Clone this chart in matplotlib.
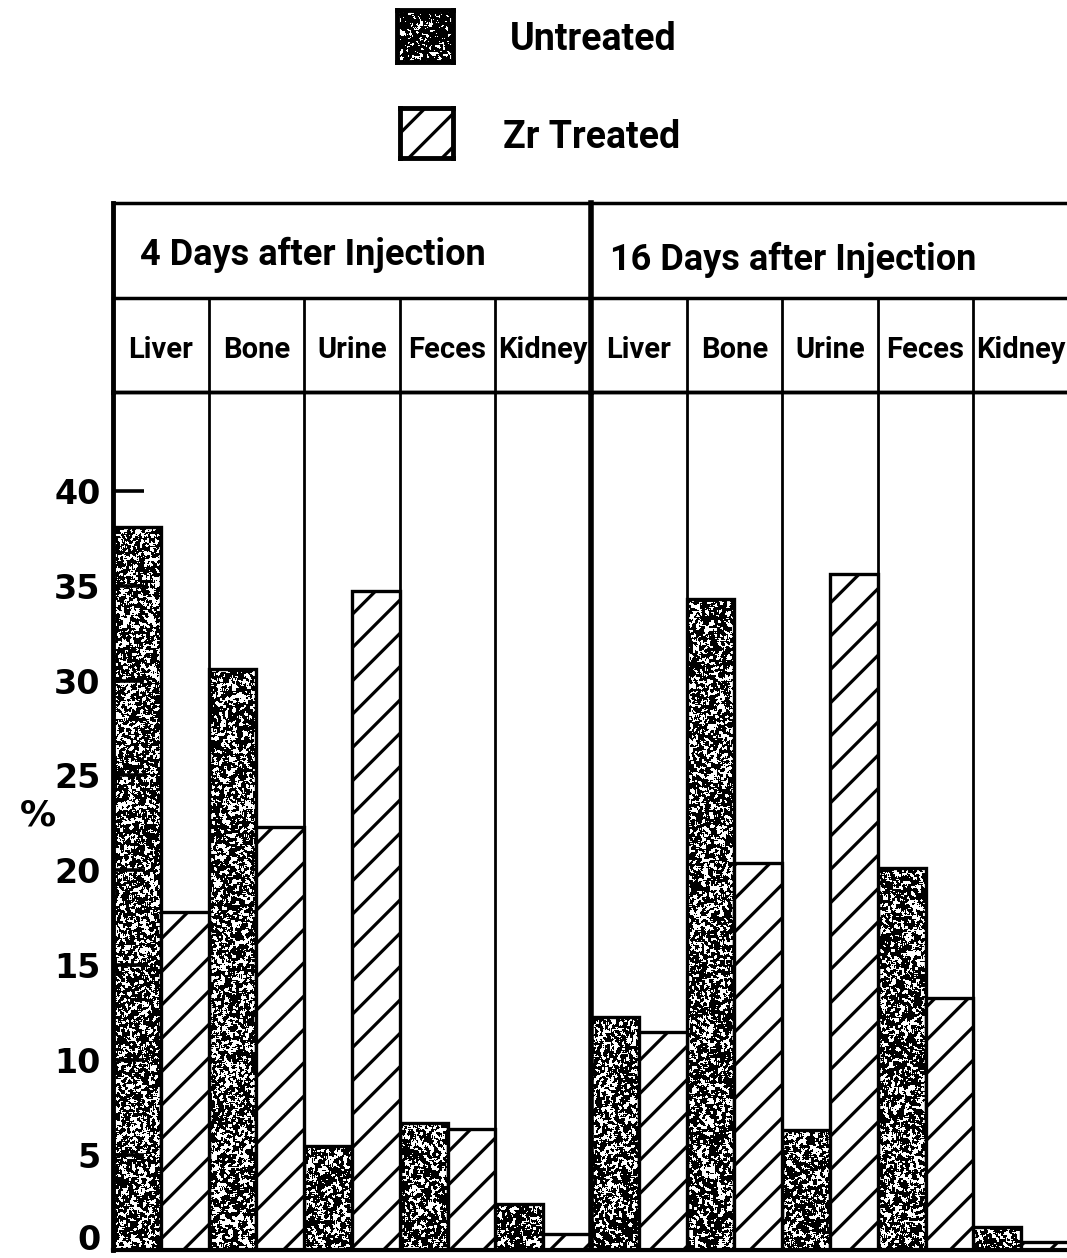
import numpy as np
import matplotlib
matplotlib.use("Agg")
import matplotlib.pyplot as plt
import matplotlib.transforms as mtransforms
from matplotlib.patches import Rectangle

# ---- data ----
periods = ["4 Days after Injection", "16 Days after Injection"]
organs = ["Liver", "Bone", "Urine", "Feces", "Kidney"]
untreated_4d = [38.1, 30.6, 5.5, 6.7, 2.4]
treated_4d = [17.8, 22.3, 34.7, 6.4, 0.85]
untreated_16d = [12.3, 34.3, 6.3, 20.1, 1.2]
treated_16d = [11.5, 20.4, 35.6, 13.3, 0.4]
yticks = [0, 5, 10, 15, 20, 25, 30, 35, 40]
ytick_labels = ["0", "5", "10", "15", "20", "25", "30", "35", "40"]
legend_labels = ["Untreated", "Zr Treated"]

plt.rcParams['hatch.linewidth'] = 2.3
W, H = 1067, 1258
fig = plt.figure(figsize=(W / 100, H / 100), dpi=100)
fig.patch.set_facecolor("white")

TXT = ["Roboto", "DejaVu Sans"]


def noise(h, w, seed=0.0, thr=0.5):
    i = np.arange(h)[:, None].astype(float)
    j = np.arange(w)[None, :].astype(float)
    v = np.sin(i * 12.9898 + j * 78.233 + seed) * 43758.5453
    v = v - np.floor(v)
    v2 = np.sin(i * 39.3468 + j * 11.1351 + seed * 7.0) * 24634.6345
    v2 = v2 - np.floor(v2)
    v = 0.5 * (v + v2)
    n = np.zeros_like(v)
    for di in (-1, 0, 1):
        for dj in (-1, 0, 1):
            n += np.roll(np.roll(v, di, 0), dj, 1)
    n /= 9.0
    return (n > thr).astype(float)


def fx(px):
    return px / W


def fy(py):
    return 1 - py / H


x_left, x_right = 113, 1069
y_top_plot, y_base = 392, 1250
y_head_top = 203
YMAX = 45.2

# ---- main bar axes ----
ax = fig.add_axes([fx(x_left), fy(y_base), fx(x_right) - fx(x_left), fy(y_top_plot) - fy(y_base)])
ax.set_xlim(0, 10)
ax.set_ylim(0, YMAX)

untreated = untreated_4d + untreated_16d
treated = treated_4d + treated_16d
ncol = len(untreated)
xs = np.arange(ncol)

tex = noise(858, 956, seed=1.0, thr=0.522)
for i, v in enumerate(untreated):
    bars = ax.bar(xs[i] + 0.25, v, width=0.5, facecolor="none", edgecolor="black",
                  linewidth=2.4, zorder=4)
    im = ax.imshow(tex, cmap="gray", vmin=0, vmax=1, extent=(0, 10, 0, YMAX),
                   origin="lower", aspect="auto", interpolation="nearest", zorder=3)
    im.set_clip_path(bars.patches[0])
ax.bar(xs + 0.75, treated, width=0.5, facecolor="white", edgecolor="black",
       hatch="/", linewidth=2.4, zorder=4)

for k in range(1, ncol):
    ax.axvline(k, color="black", lw=4.0 if k == 5 else 2.0, zorder=5)

ax.set_xticks([])
ax.set_yticks(yticks)
ax.set_yticklabels(ytick_labels, fontsize=24, fontweight="bold", family=["DejaVu Sans"])
ax.tick_params(axis="y", direction="in", length=22, width=2.6, pad=9)
ax.yaxis.set_zorder(6)
lab0 = ax.get_yticklabels()[0]
lab0.set_transform(lab0.get_transform() + mtransforms.ScaledTranslation(0, 13 / 100, fig.dpi_scale_trans))
ax.spines["left"].set_linewidth(3.5)
ax.spines["bottom"].set_linewidth(3.0)
ax.spines["top"].set_linewidth(2.5)
ax.spines["right"].set_visible(False)
for sp in ax.spines.values():
    sp.set_zorder(6)

fig.text(fx(38), fy(815), "%", fontsize=26, fontweight="bold", family=["DejaVu Sans"],
         ha="center", va="center")

# ---- header axes ----
hx = fig.add_axes([fx(x_left), fy(y_top_plot), fx(x_right) - fx(x_left), fy(y_head_top) - fy(y_top_plot)])
hx.set_xlim(0, 10)
hx.set_ylim(0, 2)
hx.axis("off")
hx.plot([0, 10], [2, 2], color="black", lw=2.5, clip_on=False)
hx.plot([0, 10], [1, 1], color="black", lw=2.5, clip_on=False)
hx.plot([0, 10], [0, 0], color="black", lw=2.5, clip_on=False)
hx.plot([0, 0], [0, 2], color="black", lw=3.5, clip_on=False)
hx.plot([5, 5], [0, 2], color="black", lw=4.0, clip_on=False)
for k in range(1, ncol):
    if k != 5:
        hx.plot([k, k], [0, 1], color="black", lw=2.0, clip_on=False)
hx.text(0.28, 1.45, periods[0], fontsize=26, fontweight="bold", family=TXT, ha="left", va="center")
hx.text(5.2, 1.40, periods[1], fontsize=26, fontweight="bold", family=TXT, ha="left", va="center")
for i in range(ncol):
    hx.text(i + 0.5, 0.44, organs[i % 5], fontsize=21, fontweight="bold", family=TXT,
            ha="center", va="center")

# ---- legend ----
lx1 = fig.add_axes([fx(397), fy(62), fx(453) - fx(397), fy(10) - fy(62)])
lx1.imshow(noise(52, 56, seed=3.0, thr=0.56), cmap="gray", vmin=0, vmax=1,
           aspect="auto", interpolation="nearest")
lx1.set_xticks([]); lx1.set_yticks([])
for sp in lx1.spines.values():
    sp.set_linewidth(3.5)

lx2 = fig.add_axes([fx(400), fy(158), fx(453) - fx(400), fy(108) - fy(158)])
lx2.add_patch(Rectangle((0, 0), 1, 1, facecolor="white", edgecolor="black", hatch="/", lw=0))
lx2.set_xlim(0, 1); lx2.set_ylim(0, 1)
lx2.set_xticks([]); lx2.set_yticks([])
for sp in lx2.spines.values():
    sp.set_linewidth(3.5)

fig.text(fx(510), fy(40), legend_labels[0], fontsize=27, fontweight="bold", family=TXT,
         ha="left", va="center")
fig.text(fx(503), fy(137), legend_labels[1], fontsize=27, fontweight="bold", family=TXT,
         ha="left", va="center")

fig.savefig("out.png", dpi=100, facecolor="white")
